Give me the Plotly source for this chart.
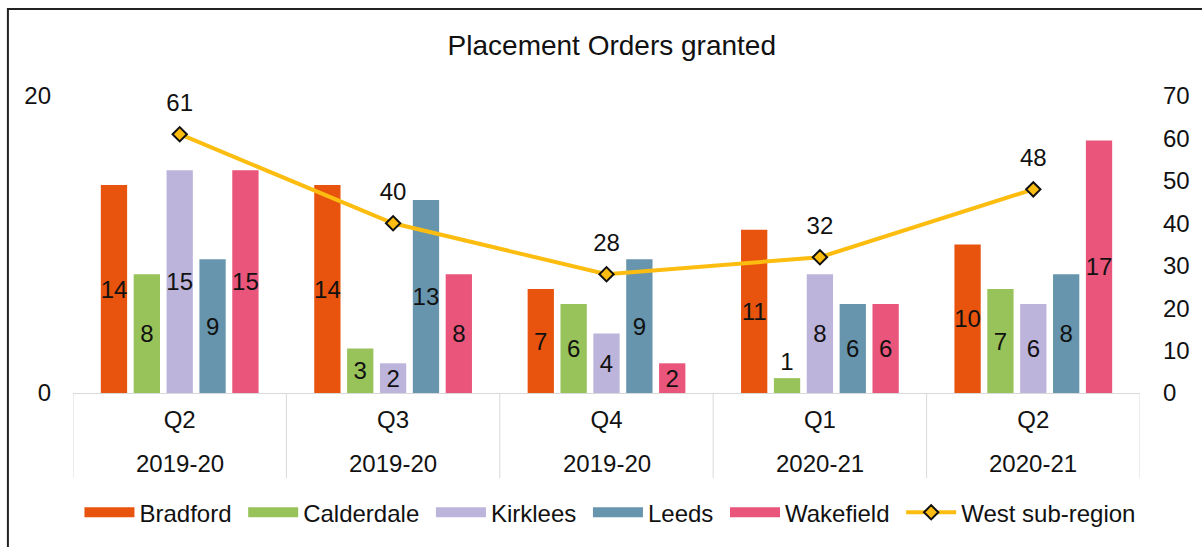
import plotly.graph_objects as go

quarters = ["Q2", "Q3", "Q4", "Q1", "Q2"]
years = ["2019-20", "2019-20", "2019-20", "2020-21", "2020-21"]
bradford = [14, 14, 7, 11, 10]
calderdale = [8, 3, 6, 1, 7]
kirklees = [15, 2, 4, 8, 6]
leeds = [9, 13, 9, 6, 8]
wakefield = [15, 8, 2, 6, 17]
west = [61, 40, 28, 32, 48]

series = [
    ("Bradford", bradford, "#E8540E"),
    ("Calderdale", calderdale, "#98C25A"),
    ("Kirklees", kirklees, "#BCB4DB"),
    ("Leeds", leeds, "#6795AD"),
    ("Wakefield", wakefield, "#E9557B"),
]
line_color = "#FCBD10"
FONT = "Liberation Sans, Arial, sans-serif"
TXT = "#111111"
GRID = "#D9D9D9"

n = len(quarters)
idx = list(range(n))

fig = go.Figure()
for name, vals, col in series:
    fig.add_trace(go.Bar(
        x=idx, y=vals, name=name, marker=dict(color=col, line=dict(width=0)),
        text=[str(v) for v in vals],
        textposition=["inside" if v >= 2 else "outside" for v in vals],
        insidetextanchor="middle", constraintext="none", textangle=0, cliponaxis=False,
        textfont=dict(family=FONT, size=24, color=TXT),
        showlegend=False,
    ))
    fig.add_trace(go.Scatter(
        x=[None], y=[None], mode="lines", name=name + "\u00a0",
        line=dict(color=col, width=10), showlegend=True,
    ))

fig.add_trace(go.Scatter(
    x=idx, y=west, name="West sub-region", yaxis="y2", mode="lines+markers",
    line=dict(color=line_color, width=4),
    marker=dict(symbol="diamond", size=11, color=line_color, line=dict(color="#111", width=2)),
))
fig.add_trace(go.Scatter(
    x=idx, y=west, yaxis="y2", mode="markers+text", text=[str(v) for v in west],
    marker=dict(size=26, color="rgba(0,0,0,0)"), hoverinfo="skip",
    textposition="top center", textfont=dict(family=FONT, size=24, color=TXT),
    showlegend=False, cliponaxis=False,
))

annotations = [dict(x=i, xref="x", y=-0.2367, yref="paper", text=yr, showarrow=False,
                    xanchor="center", yanchor="middle",
                    font=dict(family=FONT, size=24, color=TXT))
               for i, yr in enumerate(years)]
shapes = [dict(type="line", xref="x", yref="paper", x0=i - 0.5, x1=i - 0.5, y0=0, y1=-0.2867,
               line=dict(color=GRID, width=1)) for i in range(n + 1)]
shapes.append(dict(type="rect", xref="paper", yref="paper",
                   x0=-0.061, x1=1.06, y0=-0.55, y1=1.2933,
                   line=dict(color="#222", width=2), fillcolor="rgba(0,0,0,0)", layer="below"))

fig.update_layout(
    width=1202, height=547, autosize=False,
    margin=dict(l=73, r=48, t=96, b=151),
    paper_bgcolor="white", plot_bgcolor="white",
    font=dict(family=FONT, size=24, color=TXT),
    title=dict(text="Placement Orders granted", x=0.509, xanchor="center", y=0.917, yanchor="middle",
               font=dict(family=FONT, size=28, color=TXT)),
    barmode="group", bargap=0.23, bargroupgap=0.2,
    xaxis=dict(range=[-0.5, n - 0.5], tickvals=idx, ticktext=quarters, showline=True,
               linecolor=GRID, linewidth=1, zeroline=False, showgrid=False, ticks="",
               ticklabelstandoff=5, tickfont=dict(family=FONT, size=24, color=TXT)),
    yaxis=dict(range=[0, 20], dtick=20, showgrid=True, gridcolor=GRID, gridwidth=1,
               zeroline=False, ticks="", ticklabelstandoff=21,
               tickfont=dict(family=FONT, size=24, color=TXT)),
    yaxis2=dict(range=[0, 70], dtick=10, overlaying="y", side="right", showgrid=False,
                zeroline=False, ticks="", ticklabelstandoff=22,
                tickfont=dict(family=FONT, size=24, color=TXT)),
    legend=dict(orientation="h", x=0.5037, xanchor="center", y=-0.403, yanchor="middle",
                font=dict(family=FONT, size=24, color=TXT), itemwidth=50,
                bgcolor="rgba(0,0,0,0)", traceorder="normal"),
    annotations=annotations,
    shapes=shapes,
)

fig.write_html("out.html", config={"displayModeBar": False},
               post_script="document.body.style.margin='0';document.body.style.overflow='hidden';")
